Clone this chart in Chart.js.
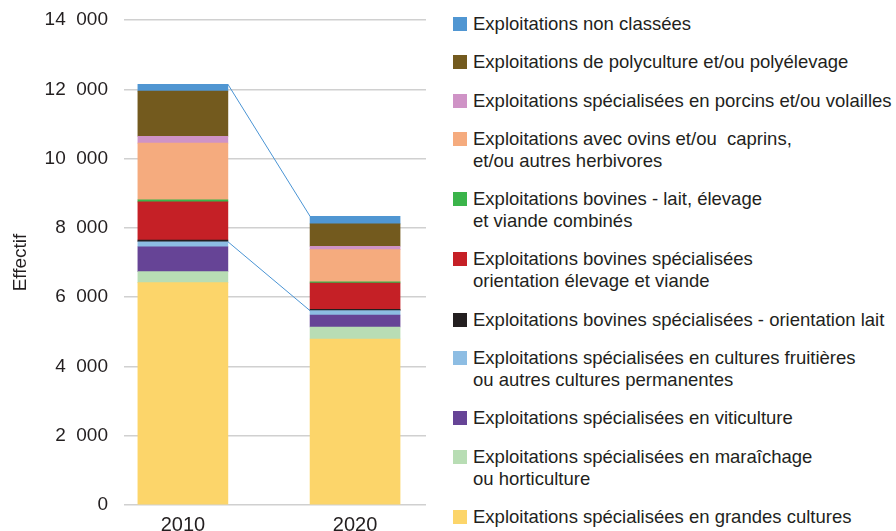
<!DOCTYPE html>
<html>
<head>
<meta charset="utf-8">
<script src="https://cdn.jsdelivr.net/npm/chart.js@4"></script>
<style>
  body { margin: 0; background: #fff; font-family: "Liberation Sans", Arial, sans-serif; }
  #wrap { position: relative; width: 896px; height: 531px; overflow: hidden; }
  #chart-box { position: absolute; left: 0; top: 0; width: 445px; height: 531px; }
  #legend { position: absolute; left: 453px; top: 13px; display: flex; flex-direction: column; gap: 16.3px; }
  .item { display: flex; align-items: flex-start; font-size: 18.5px; line-height: 22px; color: #231f20; white-space: nowrap; }
  .swatch { width: 14px; height: 14px; margin-top: 4px; margin-right: 6px; flex: none; }
</style>
</head>
<body>
<div id="wrap">
  <div id="chart-box"><canvas id="myChart" width="445" height="531"></canvas></div>
  <div id="legend"></div>
</div>
<script>
// Years
const years = [2010, 2020];
const yTicks = [0, 2000, 4000, 6000, 8000, 10000, 12000, 14000];

// Series, bottom of the stack first
const grandesCultures = [6417, 4792];
const maraichage = [318, 346];
const viticulture = [720, 346];
const fruitieres = [145, 125];
const bovinsLait = [45, 40];
const bovinsViande = [1105, 760];
const bovinsMixte = [60, 30];
const ovinsCaprins = [1635, 934];
const porcinsVolailles = [200, 95];
const polyculture = [1300, 645];
const nonClassees = [200, 220];

const series = [
    { label: ["Exploitations spécialisées en grandes cultures"], data: grandesCultures, color: "#fcd56a" },
    { label: ["Exploitations spécialisées en maraîchage", "ou horticulture"], data: maraichage, color: "#b8ddb4" },
    { label: ["Exploitations spécialisées en viticulture"], data: viticulture, color: "#664496" },
    { label: ["Exploitations spécialisées en cultures fruitières", "ou autres cultures permanentes"], data: fruitieres, color: "#8dbde3" },
    { label: ["Exploitations bovines spécialisées - orientation lait"], data: bovinsLait, color: "#231f20" },
    { label: ["Exploitations bovines spécialisées", "orientation élevage et viande"], data: bovinsViande, color: "#c52026" },
    { label: ["Exploitations bovines - lait, élevage", "et viande combinés"], data: bovinsMixte, color: "#3bb44a" },
    { label: ["Exploitations avec ovins et/ou  caprins,", "et/ou autres herbivores"], data: ovinsCaprins, color: "#f5ab7e" },
    { label: ["Exploitations spécialisées en porcins et/ou volailles"], data: porcinsVolailles, color: "#cf93c6" },
    { label: ["Exploitations de polyculture et/ou polyélevage"], data: polyculture, color: "#735a1e" },
    { label: ["Exploitations non classées"], data: nonClassees, color: "#5096d2" }
];

// index of the last "plant" series (connector line sits on top of it)
const cropsTop = 3;

// thousands with a wide gap, like "14 000"
function fmt(v) {
    return String(v).replace(/\B(?=(\d{3})+(?!\d))/g, "  ");
}

// HTML legend, top of stack first
const legend = document.getElementById("legend");
series.slice().reverse().forEach(s => {
    const item = document.createElement("div");
    item.className = "item";
    const sw = document.createElement("span");
    sw.className = "swatch";
    sw.style.background = s.color;
    const txt = document.createElement("span");
    txt.style.whiteSpace = "pre";
    txt.innerHTML = s.label.join("<br>");
    item.appendChild(sw);
    item.appendChild(txt);
    legend.appendChild(item);
});

// connector lines between bars
const connectors = {
    id: "connectors",
    afterDatasetsDraw(chart) {
        const ctx = chart.ctx;
        const tops = [cropsTop, series.length - 1];
        ctx.save();
        ctx.strokeStyle = "#4a94d4";
        ctx.lineWidth = 1;
        tops.forEach(i => {
            const bars = chart.getDatasetMeta(i).data;
            const a = bars[0], b = bars[1];
            ctx.beginPath();
            ctx.moveTo(a.x + a.width / 2, a.y);
            ctx.lineTo(b.x - b.width / 2, b.y);
            ctx.stroke();
        });
        ctx.restore();
    }
};

const ctx = document.getElementById("myChart").getContext("2d");
const myChart = new Chart(ctx, {
    type: "bar",
    data: {
        datasets: series.map(s => ({
            label: s.label.join(" "),
            data: s.data.map((v, i) => ({ x: years[i], y: v })),
            backgroundColor: s.color,
            borderWidth: 0,
            barThickness: 90
        }))
    },
    options: {
        responsive: false,
        animation: false,
        layout: { padding: { top: 20, right: 19, bottom: 0, left: 0 } },
        plugins: { legend: { display: false }, tooltip: { enabled: false } },
        scales: {
            x: {
                type: "linear",
                stacked: true,
                offset: false,
                min: 2006.58,
                max: 2024.12,
                grid: { display: false },
                border: { display: false },
                afterBuildTicks: scale => { scale.ticks = years.map(v => ({ value: v })); },
                afterFit: scale => { scale.height = 26; },
                ticks: {
                    color: "#231f20",
                    font: { family: "Liberation Sans", size: 20 },
                    padding: 0,
                    maxRotation: 0,
                    autoSkip: false,
                    callback: v => String(v)
                }
            },
            y: {
                stacked: true,
                min: 0,
                max: 14000,
                afterBuildTicks: scale => { scale.ticks = yTicks.map(v => ({ value: v })); },
                afterFit: scale => {
                    scale.width = 124;
                    scale.paddingTop = 0;
                    scale.paddingBottom = 0;
                },
                grid: { color: "#d0d0d0", lineWidth: 1.5, drawTicks: false },
                border: { display: false },
                ticks: {
                    color: "#231f20",
                    font: { family: "Liberation Sans", size: 19 },
                    padding: 16,
                    callback: v => fmt(v)
                },
                title: {
                    display: true,
                    text: "Effectif",
                    color: "#231f20",
                    font: { family: "Liberation Sans", size: 19 },
                    padding: { top: 9, bottom: 0 }
                }
            }
        }
    },
    plugins: [connectors]
});
</script>
</body>
</html>
